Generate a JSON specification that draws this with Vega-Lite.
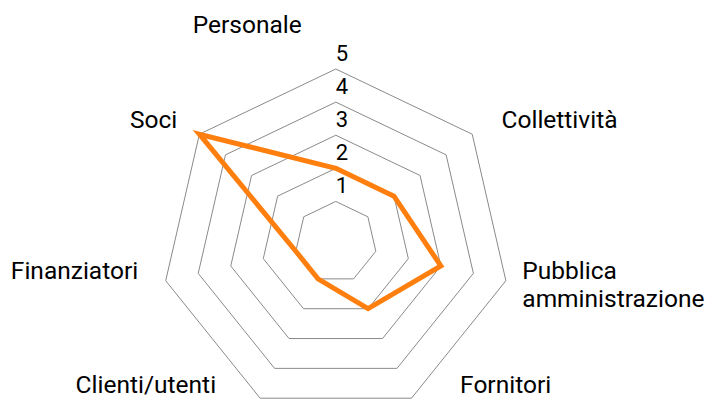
{
  "$schema": "https://vega.github.io/schema/vega-lite/v6.json",
  "width": 707,
  "height": 401,
  "autosize": {"type": "fit", "contains": "padding"},
  "padding": 0,
  "config": {"view": {"stroke": null}, "font": "Roboto"},
  "datasets": {
    "scores": [
      {"axis": "Personale", "value": 2},
      {"axis": "Collettività", "value": 2},
      {"axis": "Pubblica amministrazione", "value": 3},
      {"axis": "Fornitori", "value": 2},
      {"axis": "Clienti/utenti", "value": 1},
      {"axis": "Finanziatori", "value": 1},
      {"axis": "Soci", "value": 5}
    ],
    "grid": [
      {"ring": 1, "axis": "Personale"}, {"ring": 1, "axis": "Collettività"}, {"ring": 1, "axis": "Pubblica amministrazione"}, {"ring": 1, "axis": "Fornitori"}, {"ring": 1, "axis": "Clienti/utenti"}, {"ring": 1, "axis": "Finanziatori"}, {"ring": 1, "axis": "Soci"},
      {"ring": 2, "axis": "Personale"}, {"ring": 2, "axis": "Collettività"}, {"ring": 2, "axis": "Pubblica amministrazione"}, {"ring": 2, "axis": "Fornitori"}, {"ring": 2, "axis": "Clienti/utenti"}, {"ring": 2, "axis": "Finanziatori"}, {"ring": 2, "axis": "Soci"},
      {"ring": 3, "axis": "Personale"}, {"ring": 3, "axis": "Collettività"}, {"ring": 3, "axis": "Pubblica amministrazione"}, {"ring": 3, "axis": "Fornitori"}, {"ring": 3, "axis": "Clienti/utenti"}, {"ring": 3, "axis": "Finanziatori"}, {"ring": 3, "axis": "Soci"},
      {"ring": 4, "axis": "Personale"}, {"ring": 4, "axis": "Collettività"}, {"ring": 4, "axis": "Pubblica amministrazione"}, {"ring": 4, "axis": "Fornitori"}, {"ring": 4, "axis": "Clienti/utenti"}, {"ring": 4, "axis": "Finanziatori"}, {"ring": 4, "axis": "Soci"},
      {"ring": 5, "axis": "Personale"}, {"ring": 5, "axis": "Collettività"}, {"ring": 5, "axis": "Pubblica amministrazione"}, {"ring": 5, "axis": "Fornitori"}, {"ring": 5, "axis": "Clienti/utenti"}, {"ring": 5, "axis": "Finanziatori"}, {"ring": 5, "axis": "Soci"}
    ]
  },
  "encoding": {
    "x": {"field": "px", "type": "quantitative", "axis": null, "scale": {"domain": [-10.066, 11.127], "nice": false, "zero": false}},
    "y": {"field": "py", "type": "quantitative", "axis": null, "scale": {"domain": [-4.706, 7.314], "nice": false, "zero": false}}
  },
  "layer": [
    {
      "data": {"name": "grid"},
      "transform": [
        {"calculate": "indexof(['Personale','Collettività','Pubblica amministrazione','Fornitori','Clienti/utenti','Finanziatori','Soci'], datum.axis)", "as": "i"},
        {"calculate": "2 * PI * datum.i / 7", "as": "theta"},
        {"calculate": "(datum.ring + 0.23) * sin(datum.theta)", "as": "px"},
        {"calculate": "(datum.ring + 0.23) * cos(datum.theta)", "as": "py"}
      ],
      "mark": {"type": "line", "interpolate": "linear-closed", "stroke": "#8a8a8a", "strokeWidth": 1, "clip": false},
      "encoding": {
        "detail": {"field": "ring", "type": "nominal"},
        "order": {"field": "i", "type": "quantitative"}
      }
    },
    {
      "data": {"name": "grid"},
      "transform": [
        {"filter": "datum.axis === 'Personale'"},
        {"calculate": "0", "as": "px"},
        {"calculate": "datum.ring + 0.23", "as": "py"}
      ],
      "mark": {"type": "text", "align": "left", "baseline": "alphabetic", "dy": -8, "dx": 0, "fontSize": 22, "font": "Roboto", "color": "#000000"},
      "encoding": {
        "text": {"field": "ring", "type": "nominal"}
      }
    },
    {
      "data": {"name": "scores"},
      "transform": [
        {"calculate": "indexof(['Personale','Collettività','Pubblica amministrazione','Fornitori','Clienti/utenti','Finanziatori','Soci'], datum.axis)", "as": "i"},
        {"calculate": "2 * PI * datum.i / 7", "as": "theta"},
        {"calculate": "(datum.value + 0.23) * sin(datum.theta)", "as": "px"},
        {"calculate": "(datum.value + 0.23) * cos(datum.theta)", "as": "py"}
      ],
      "mark": {"type": "line", "interpolate": "linear-closed", "stroke": "#ff7f0e", "strokeWidth": 5, "strokeJoin": "miter", "strokeMiterLimit": 10},
      "encoding": {
        "order": {"field": "i", "type": "quantitative"}
      }
    },
    {
      "data": {"name": "scores"},
      "transform": [
        {"calculate": "indexof(['Personale','Collettività','Pubblica amministrazione','Fornitori','Clienti/utenti','Finanziatori','Soci'], datum.axis)", "as": "i"},
        {"calculate": "2 * PI * datum.i / 7", "as": "theta"},
        {"calculate": "5.23 * sin(datum.theta)", "as": "px"},
        {"calculate": "5.23 * cos(datum.theta)", "as": "py"}
      ],
      "mark": {
        "type": "text",
        "font": "Roboto",
        "fontSize": 24.5,
        "color": "#000000",
        "baseline": "alphabetic",
        "lineBreak": " ",
        "lineHeight": 28.6,
        "clip": false,
        "align": {"expr": "datum.i === 0 ? 'center' : (datum.i <= 3 ? 'left' : 'right')"},
        "dx": {"expr": "{'Personale': -88.6, 'Collettività': 29.3, 'Pubblica amministrazione': 16.4, 'Fornitori': 48.6, 'Clienti/utenti': -44, 'Finanziatori': -27.5, 'Soci': -22.2}[datum.axis]"},
        "dy": {"expr": "{'Personale': -36, 'Collettività': -6.1, 'Pubblica amministrazione': -2.2, 'Fornitori': -5.4, 'Clienti/utenti': -5.4, 'Finanziatori': -2.2, 'Soci': -5.8}[datum.axis]"}
      },
      "encoding": {
        "text": {"field": "axis", "type": "nominal"}
      }
    }
  ]
}
